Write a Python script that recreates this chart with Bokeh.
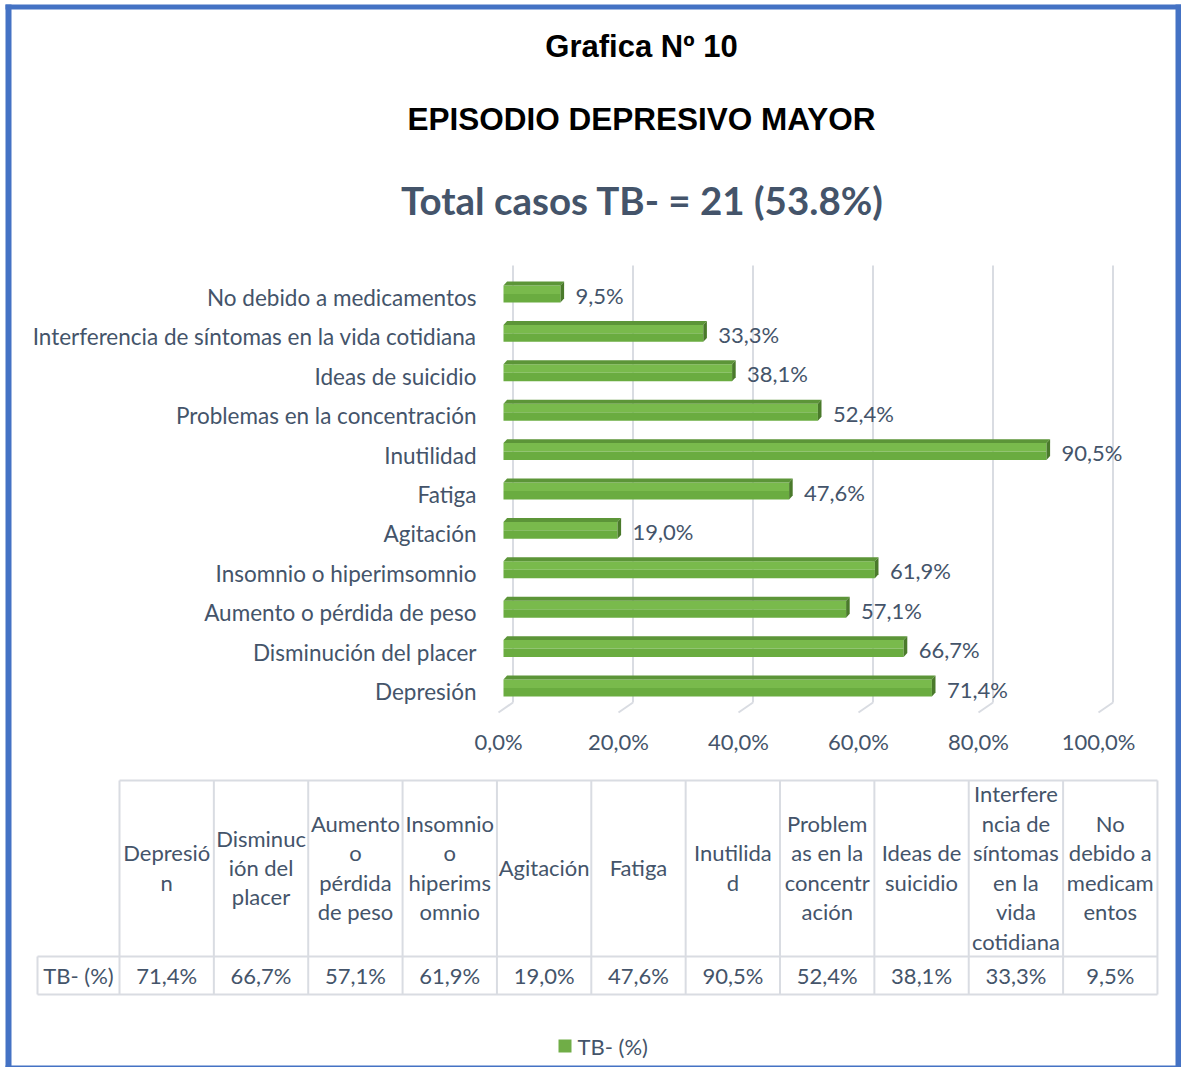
import numpy as np
from bokeh.plotting import figure
from bokeh.models import Range1d, FixedTicker
from bokeh.core.properties import value
from bokeh.embed import file_html
from bokeh.resources import INLINE

# ---------------- data ----------------
categories = [
    "Depresión",
    "Disminución del placer",
    "Aumento o pérdida de peso",
    "Insomnio o hiperimsomnio",
    "Agitación",
    "Fatiga",
    "Inutilidad",
    "Problemas en la concentración",
    "Ideas de suicidio",
    "Interferencia de síntomas en la vida cotidiana",
    "No debido a medicamentos",
]
values = [71.4, 66.7, 57.1, 61.9, 19.0, 47.6, 90.5, 52.4, 38.1, 33.3, 9.5]
table_headers = [
    "Depresió\nn",
    "Disminuc\nión del\nplacer",
    "Aumento\no\npérdida\nde peso",
    "Insomnio\no\nhiperims\nomnio",
    "Agitación",
    "Fatiga",
    "Inutilida\nd",
    "Problem\nas en la\nconcentr\nación",
    "Ideas de\nsuicidio",
    "Interfere\nncia de\nsíntomas\nen la\nvida\ncotidiana",
    "No\ndebido a\nmedicam\nentos",
]
series_name = "TB- (%)"
x_ticks = [0, 20, 40, 60, 80, 100]
x_tick_labels = ["0,0%", "20,0%", "40,0%", "60,0%", "80,0%", "100,0%"]
title_1 = "Grafica Nº 10"
title_2 = "EPISODIO DEPRESIVO MAYOR"
title_3 = "Total casos TB- = 21 (53.8%)"

# ---------------- style ----------------
TXT = "#44546A"
BLUE = "#4472C4"
GRID = "#D9DCE2"
FONT = "Lato"
FS = "22px"
W, H = 1181, 1067


def fmt(v):
    return f"{v:.1f}%".replace(".", ",")


# one figure; default ranges = data (percent, row index), extra ranges = layout px
p = figure(width=W, height=H, x_range=Range1d(-83.0, 113.833),
           y_range=Range1d(-9.543, 17.538), min_border=0,
           output_backend="svg", toolbar_location=None)
p.extra_x_ranges = {"px": Range1d(0, W)}
p.extra_y_ranges = {"py": Range1d(H, 0)}
p.grid.visible = False
p.outline_line_color = None
PX = dict(x_range_name="px", y_range_name="py")

# ---------------- blue frame ----------------
p.quad(left=[5, 5, W - 6, 5], right=[11, W, W, W],
       top=[4, 4, 4, H - 2], bottom=[H, 9, H, H],
       fill_color=BLUE, line_color=None, **PX)

# ---------------- titles ----------------
p.text(x=[641], y=[46], text=[title_1], text_font=value("Liberation Sans"),
       text_font_style="bold", text_font_size="31px", text_color="black",
       text_align="center", text_baseline="middle", **PX)
p.text(x=[641], y=[118.5], text=[title_2], text_font=value("Liberation Sans"),
       text_font_style="bold", text_font_size="31.5px", text_color="black",
       text_align="center", text_baseline="middle", **PX)
p.text(x=[642], y=[199], text=[title_3], text_font=value(FONT),
       text_font_style="bold", text_font_size="38.5px", text_color=TXT,
       text_align="center", text_baseline="middle", **PX)

# ---------------- 3D-like gridlines ----------------
GX, G_TOP, G_BOT, G_END = 2.42, 10.81, -0.279, -0.533
xt = np.array(x_ticks, dtype=float)
p.segment(x0=xt + GX, y0=[G_TOP] * len(xt), x1=xt + GX, y1=[G_BOT] * len(xt),
          line_color=GRID, line_width=2)
p.segment(x0=xt + GX, y0=[G_BOT] * len(xt), x1=xt, y1=[G_END] * len(xt),
          line_color=GRID, line_width=2)

# ---------------- 3D bars ----------------
v = np.array(values)
idx = np.arange(len(values), dtype=float)
BX, OFF, BH, D, E = 0.833, 0.09, 0.43, 0.6, 0.1
left = np.full_like(v, BX)
right = v + BX
bot = idx + OFF - BH / 2
top = idx + OFF + BH / 2
mid = idx + OFF
p.quad(left=left, right=right, bottom=mid, top=top, fill_color="#79BA4C", line_color=None)
p.quad(left=left, right=right, bottom=bot, top=mid, fill_color="#6AAC40", line_color=None)
p.patches(xs=[[l, r, r + D, l + D] for l, r in zip(left, right)],
          ys=[[t, t, t + E, t + E] for t in top],
          fill_color="#5C9538", line_color=None)
p.patches(xs=[[r, r, r + D, r + D] for r in right],
          ys=[[b, t, t + E, b + E] for b, t in zip(bot, top)],
          fill_color="#4A7A2B", line_color=None)

# data labels
p.text(x=right + 2.5, y=idx + 0.06, text=[fmt(x) for x in values],
       text_font=value(FONT), text_font_size=FS, text_color=TXT,
       text_align="left", text_baseline="middle")

# ---------------- axes (fixed inside the frame) ----------------
p.yaxis.fixed_location = 0
p.xaxis.fixed_location = -0.6345
p.yaxis.ticker = FixedTicker(ticks=list(range(len(categories))))
p.yaxis.major_label_overrides = {i: c for i, c in enumerate(categories)}
p.xaxis.ticker = FixedTicker(ticks=x_ticks)
p.xaxis.major_label_overrides = {t: l for t, l in zip(x_ticks, x_tick_labels)}
for ax in (p.xaxis, p.yaxis):
    ax.axis_line_color = None
    ax.major_tick_line_color = None
    ax.minor_tick_line_color = None
    ax.major_label_text_font = FONT
    ax.major_label_text_font_size = FS
    ax.major_label_text_color = TXT
p.yaxis.major_label_text_font_size = "22.5px"
p.yaxis.major_label_standoff = 16
p.xaxis.major_label_standoff = 5

# ---------------- data table ----------------
TL, CW, HT, RT, RB, RH = 119.0, 94.36, 780, 956, 994, 37
n = len(categories)
col_x = TL + CW * np.arange(n + 1)
centers = TL + CW * (np.arange(n) + 0.5)
p.segment(x0=col_x, y0=[HT] * (n + 1), x1=col_x, y1=[RB] * (n + 1),
          line_color=GRID, line_width=2, **PX)
p.segment(x0=[RH, TL, RH, RH], y0=[RT, HT, RT, RB],
          x1=[RH, col_x[-1], col_x[-1], col_x[-1]], y1=[RB, HT, RT, RB],
          line_color=GRID, line_width=2, **PX)
p.text(x=centers, y=[867] * n, text=table_headers, text_font=value(FONT),
       text_font_size=FS, text_color=TXT, text_align="center",
       text_baseline="middle", text_line_height=1.09, **PX)
p.text(x=centers, y=[975] * n, text=[fmt(x) for x in values], text_font=value(FONT),
       text_font_size=FS, text_color=TXT, text_align="center", text_baseline="middle", **PX)
p.text(x=[(RH + TL) / 2], y=[975], text=[series_name], text_font=value(FONT),
       text_font_size=FS, text_color=TXT, text_align="center", text_baseline="middle", **PX)

# legend
p.quad(left=[558], right=[571], bottom=[1052], top=[1039], fill_color="#70AD47",
       line_color=None, **PX)
p.text(x=[577], y=[1046], text=[series_name], text_font=value(FONT),
       text_font_size=FS, text_color=TXT, text_align="left", text_baseline="middle", **PX)

open("out.html", "w").write(file_html(p, INLINE))
